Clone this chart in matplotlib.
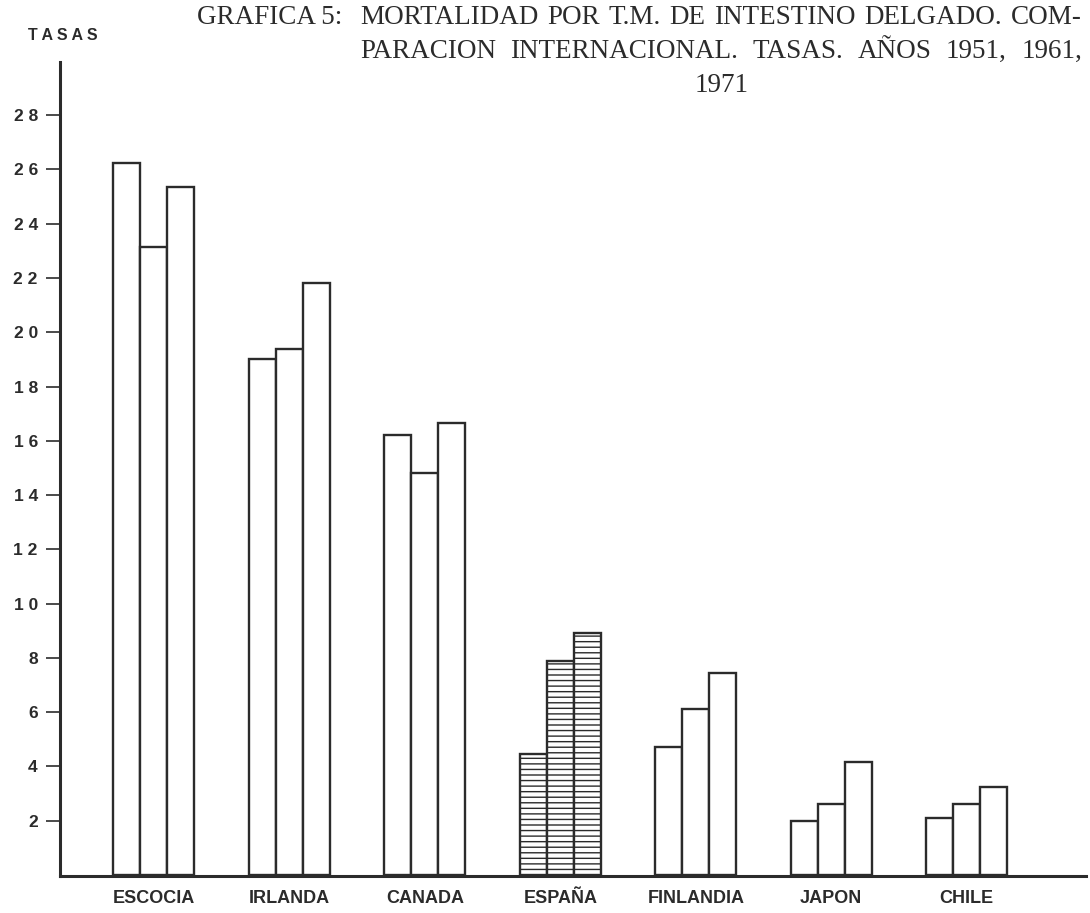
import matplotlib
matplotlib.use("Agg")
import matplotlib.pyplot as plt
import numpy as np

countries = ["ESCOCIA", "IRLANDA", "CANADA", "ESPAÑA", "FINLANDIA", "JAPON", "CHILE"]
years = ["1951", "1961", "1971"]
rates_1951 = [26.25, 19.0, 16.2, 4.45, 4.7, 2.0, 2.1]
rates_1961 = [23.15, 19.4, 14.8, 7.9, 6.1, 2.6, 2.6]
rates_1971 = [25.35, 21.8, 16.65, 8.9, 7.45, 4.15, 3.25]
yticks = [2, 4, 6, 8, 10, 12, 14, 16, 18, 20, 22, 24, 26, 28]
ytick_labels = ["2", "4", "6", "8", "1 0", "1 2", "1 4", "1 6", "1 8", "2 0", "2 2", "2 4", "2 6", "2 8"]
title_prefix = "GRAFICA 5:"
title_lines = ["MORTALIDAD POR T.M. DE INTESTINO DELGADO. COM-",
               "PARACION INTERNACIONAL. TASAS. AÑOS 1951, 1961,"]
title_last = "1971"

ink = "#2b2b2b"
plt.rcParams['hatch.linewidth'] = 1.0
plt.rcParams['hatch.color'] = ink

W, H = 1090, 913
fig = plt.figure(figsize=(W / 100, H / 100), dpi=100)
ax = fig.add_axes([60/W, (H-876)/H, (1086-60)/W, (876-62)/H])

x = np.arange(len(countries))
w = 0.2
series = [rates_1951, rates_1961, rates_1971]
for k, vals in enumerate(series):
    for i, v in enumerate(vals):
        hatch = '---' if countries[i] == "ESPAÑA" else None
        ax.bar(x[i] + (k - 1) * w, v, width=w, facecolor="white",
               edgecolor=ink, linewidth=1.7, hatch=hatch, zorder=2)

ax.set_xlim(-0.692, 6.88)
ax.set_ylim(-0.04, 29.96)
for s in ["top", "right"]:
    ax.spines[s].set_visible(False)
for s in ["left", "bottom"]:
    ax.spines[s].set_linewidth(2.2)
    ax.spines[s].set_color(ink)
    ax.spines[s].set_zorder(3)

ax.set_yticks(yticks)
ax.set_yticklabels(ytick_labels, fontsize=12.5, fontweight="bold",
                   family="Liberation Sans", color=ink)
ax.tick_params(axis="y", direction="out", length=10, width=1.2, color=ink, pad=6)
ax.set_xticks(x)
ax.set_xticklabels(countries, fontsize=13, fontweight="bold",
                   family="Liberation Sans", color=ink)
ax.tick_params(axis="x", length=0, pad=10)

fig.text(28/W, 1 - 35/H, "T A S A S", fontsize=11.5, fontweight="bold",
         family="Liberation Sans", color=ink, va="center", ha="left")

tkw = dict(family="Liberation Serif", fontsize=19.5, color=ink, va="center")
fig.text(197/W, 1 - 18/H, title_prefix, ha="left", **tkw)

renderer = fig.canvas.get_renderer()


def justify(line, x0, x1, ypix):
    words = line.split(" ")
    texts = [fig.text(0, 1 - ypix / H, wd, ha="left", **tkw) for wd in words]
    widths = [t.get_window_extent(renderer).width for t in texts]
    gap = (x1 - x0 - sum(widths)) / (len(words) - 1)
    xp = x0
    for t, wdt in zip(texts, widths):
        t.set_x(xp / W)
        xp += wdt + gap


justify(title_lines[0], 360, 1082, 18)
justify(title_lines[1], 360, 1082, 51)
fig.text(722/W, 1 - 85/H, title_last, ha="center", **tkw)

fig.savefig("out.png", dpi=100, facecolor="white")
